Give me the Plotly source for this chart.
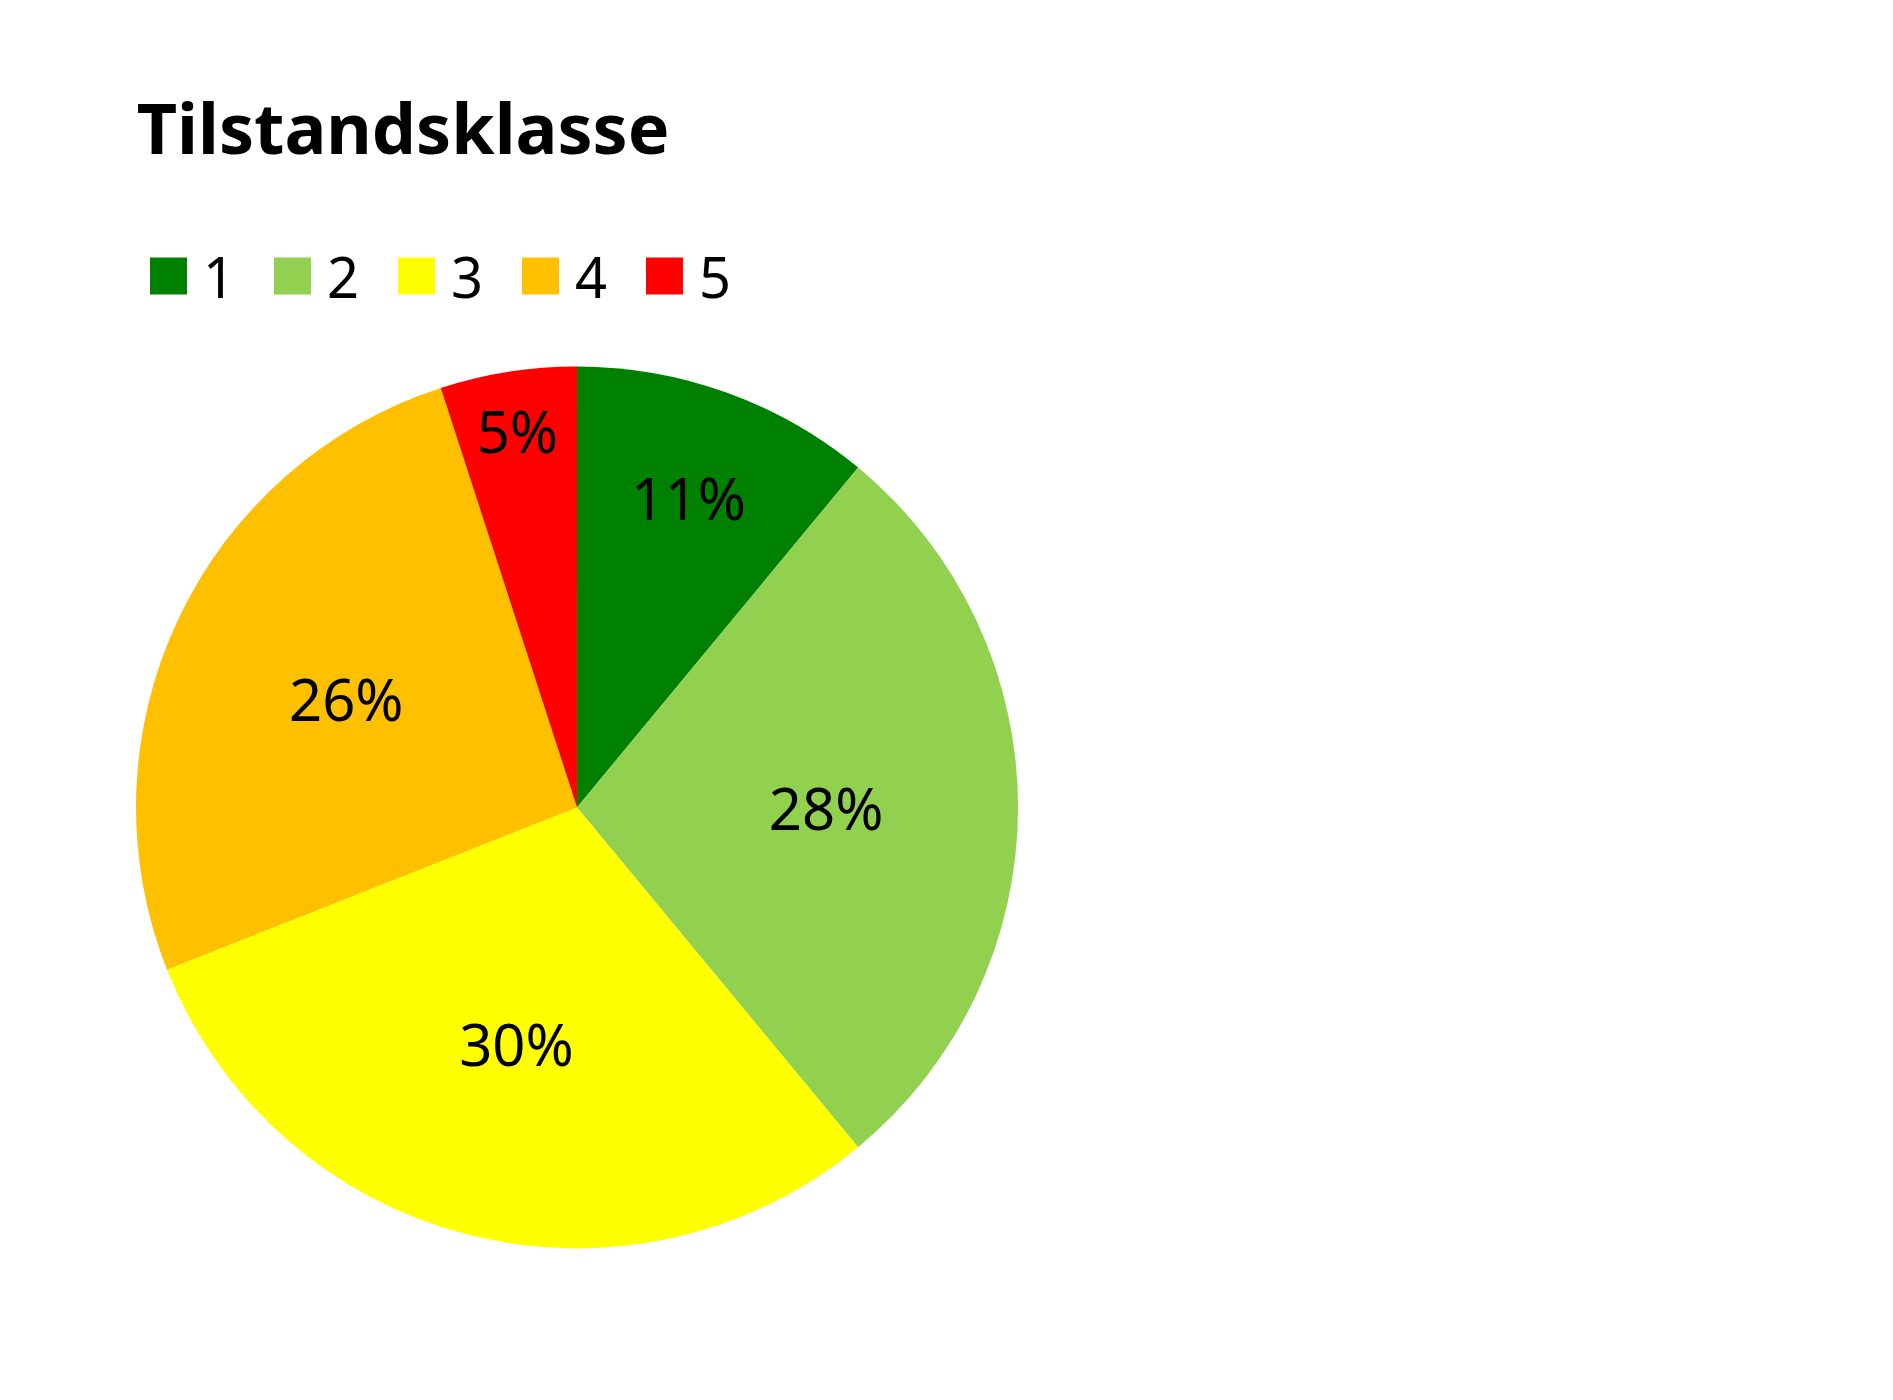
import plotly.graph_objects as go

labels = ["1", "2", "3", "4", "5"]
values = [11, 28, 30, 26, 5]
colors = ["#008000", "#92D050", "#FFFF00", "#FFC000", "#FF0000"]

W, H = 1893, 1400
fig = go.Figure(go.Pie(
    labels=labels, values=values, sort=False, direction="clockwise", rotation=0,
    marker=dict(colors=colors, line=dict(width=0)),
    textinfo="percent", texttemplate="%{percent:.0%}", textposition="inside",
    insidetextorientation="horizontal",
    textfont=dict(size=58, color="black", family="Noto Sans"),
    domain=dict(x=[0.0676, 0.5336], y=[0.114, 0.744]),
    showlegend=False,
))

# custom legend with large square swatches
x0, sq, step, yc = 142, 37, 124, 268
for i, (lab, col) in enumerate(zip(labels, colors)):
    xl = x0 + i * step
    fig.add_shape(type="rect", xref="paper", yref="paper",
                  x0=xl / W, x1=(xl + sq) / W,
                  y0=1 - (yc + sq / 2) / H, y1=1 - (yc - sq / 2) / H,
                  fillcolor=col, line=dict(width=0))
    fig.add_annotation(text=lab, xref="paper", yref="paper",
                       x=(xl + sq + 14) / W, y=1 - yc / H, xanchor="left", yanchor="middle",
                       showarrow=False, font=dict(size=56, color="black", family="Noto Sans"))

fig.update_layout(
    width=W, height=H, paper_bgcolor="white", plot_bgcolor="white",
    margin=dict(l=0, r=0, t=0, b=0),
    font=dict(family="Noto Sans", color="black"),
    title=dict(text="<b>Tilstandsklasse</b>", x=0.068, xanchor="left", y=0.913, yanchor="middle",
               font=dict(size=70, color="black")),
)
fig.write_html("out.html")
